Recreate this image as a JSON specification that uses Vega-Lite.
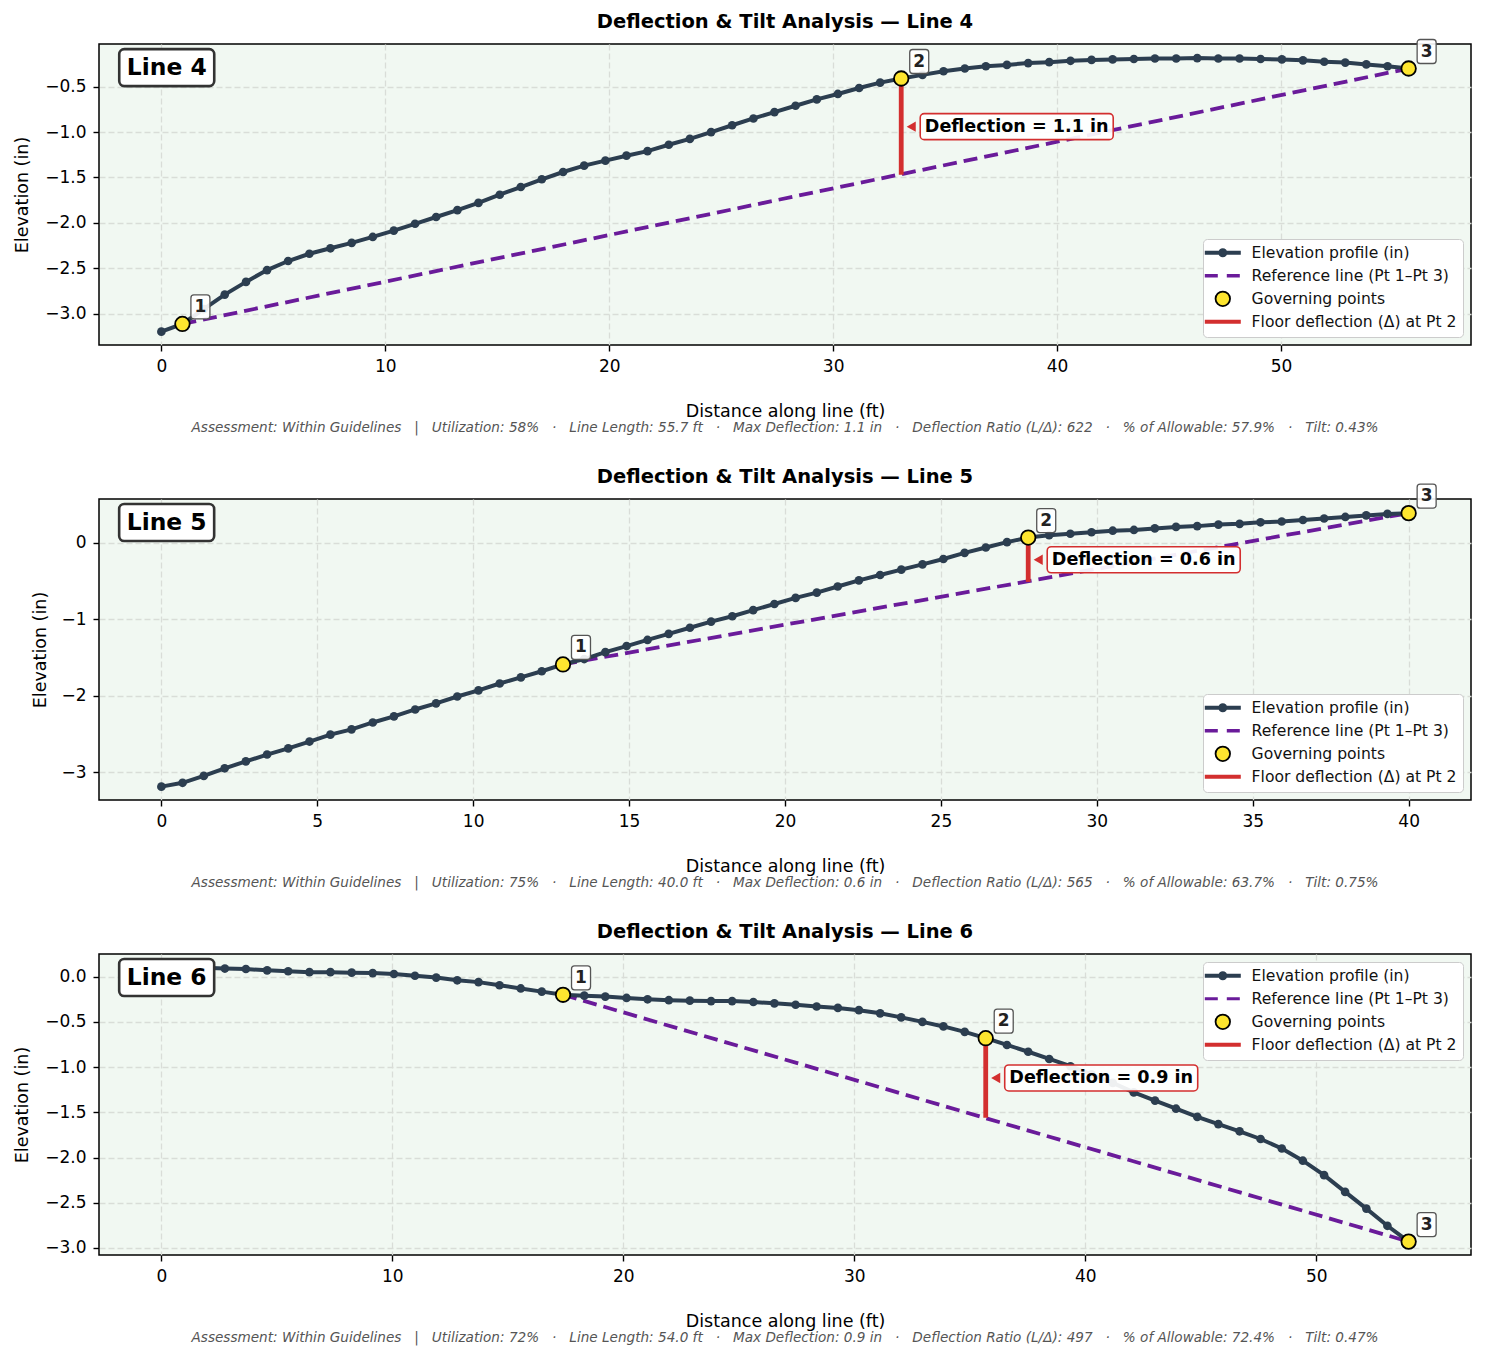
{"$schema":"https://vega.github.io/schema/vega-lite/v6.json","background":"white","padding":{"left":12,"top":11,"right":0,"bottom":0},"bounds":"flush","spacing":154,"config":{"font":"DejaVu Sans","view":{"stroke":"#000","strokeWidth":1.5,"fill":"#f1f8f2"},"axis":{"labelFont":"DejaVu Sans","titleFont":"DejaVu Sans","labelFontSize":17,"titleFontSize":17.5,"titleFontWeight":"normal","labelColor":"#000","titleColor":"#000","tickColor":"#000","tickSize":6,"tickWidth":1.4,"domain":false,"grid":true,"gridColor":"#d9ddd8","gridDash":[6,3],"gridWidth":1.3,"labelPadding":7},"axisX":{"titlePadding":28},"axisY":{"titlePadding":13},"title":{"font":"DejaVu Sans","fontSize":19.5,"fontWeight":"bold","color":"#000","anchor":"middle"}},"datasets":{"profile4":[{"x":0,"y":-3.198},{"x":0.94,"y":-3.113},{"x":1.89,"y":-2.95},{"x":2.83,"y":-2.79},{"x":3.78,"y":-2.65},{"x":4.72,"y":-2.52},{"x":5.66,"y":-2.42},{"x":6.61,"y":-2.34},{"x":7.55,"y":-2.28},{"x":8.5,"y":-2.22},{"x":9.44,"y":-2.155},{"x":10.38,"y":-2.085},{"x":11.33,"y":-2.01},{"x":12.27,"y":-1.935},{"x":13.22,"y":-1.86},{"x":14.16,"y":-1.78},{"x":15.11,"y":-1.69},{"x":16.05,"y":-1.605},{"x":16.99,"y":-1.52},{"x":17.94,"y":-1.44},{"x":18.88,"y":-1.37},{"x":19.83,"y":-1.315},{"x":20.77,"y":-1.26},{"x":21.71,"y":-1.21},{"x":22.66,"y":-1.14},{"x":23.6,"y":-1.075},{"x":24.55,"y":-1},{"x":25.49,"y":-0.925},{"x":26.44,"y":-0.85},{"x":27.38,"y":-0.78},{"x":28.32,"y":-0.71},{"x":29.27,"y":-0.64},{"x":30.21,"y":-0.58},{"x":31.16,"y":-0.515},{"x":32.1,"y":-0.455},{"x":33.04,"y":-0.41},{"x":33.99,"y":-0.37},{"x":34.93,"y":-0.33},{"x":35.88,"y":-0.3},{"x":36.82,"y":-0.275},{"x":37.76,"y":-0.26},{"x":38.71,"y":-0.24},{"x":39.65,"y":-0.23},{"x":40.6,"y":-0.215},{"x":41.54,"y":-0.205},{"x":42.48,"y":-0.2},{"x":43.43,"y":-0.195},{"x":44.37,"y":-0.19},{"x":45.32,"y":-0.19},{"x":46.26,"y":-0.185},{"x":47.2,"y":-0.19},{"x":48.15,"y":-0.19},{"x":49.09,"y":-0.195},{"x":50.04,"y":-0.2},{"x":50.98,"y":-0.21},{"x":51.93,"y":-0.225},{"x":52.87,"y":-0.235},{"x":53.81,"y":-0.255},{"x":54.76,"y":-0.275},{"x":55.7,"y":-0.3}],"profile5":[{"x":0,"y":-3.19},{"x":0.68,"y":-3.14},{"x":1.36,"y":-3.05},{"x":2.03,"y":-2.95},{"x":2.71,"y":-2.86},{"x":3.39,"y":-2.77},{"x":4.07,"y":-2.69},{"x":4.75,"y":-2.6},{"x":5.42,"y":-2.51},{"x":6.1,"y":-2.44},{"x":6.78,"y":-2.35},{"x":7.46,"y":-2.27},{"x":8.14,"y":-2.18},{"x":8.81,"y":-2.1},{"x":9.49,"y":-2.01},{"x":10.17,"y":-1.93},{"x":10.85,"y":-1.84},{"x":11.53,"y":-1.76},{"x":12.2,"y":-1.68},{"x":12.88,"y":-1.59},{"x":13.56,"y":-1.52},{"x":14.24,"y":-1.43},{"x":14.92,"y":-1.35},{"x":15.59,"y":-1.27},{"x":16.27,"y":-1.19},{"x":16.95,"y":-1.11},{"x":17.63,"y":-1.03},{"x":18.31,"y":-0.96},{"x":18.98,"y":-0.88},{"x":19.66,"y":-0.8},{"x":20.34,"y":-0.72},{"x":21.02,"y":-0.65},{"x":21.69,"y":-0.57},{"x":22.37,"y":-0.49},{"x":23.05,"y":-0.42},{"x":23.73,"y":-0.35},{"x":24.41,"y":-0.28},{"x":25.08,"y":-0.21},{"x":25.76,"y":-0.13},{"x":26.44,"y":-0.06},{"x":27.12,"y":0.01},{"x":27.8,"y":0.07},{"x":28.47,"y":0.1},{"x":29.15,"y":0.12},{"x":29.83,"y":0.14},{"x":30.51,"y":0.16},{"x":31.19,"y":0.17},{"x":31.86,"y":0.19},{"x":32.54,"y":0.21},{"x":33.22,"y":0.22},{"x":33.9,"y":0.24},{"x":34.58,"y":0.25},{"x":35.25,"y":0.27},{"x":35.93,"y":0.28},{"x":36.61,"y":0.3},{"x":37.29,"y":0.32},{"x":37.97,"y":0.34},{"x":38.64,"y":0.36},{"x":39.32,"y":0.38},{"x":40,"y":0.39}],"profile6":[{"x":0,"y":0.1},{"x":0.92,"y":0.1},{"x":1.83,"y":0.1},{"x":2.75,"y":0.09},{"x":3.66,"y":0.085},{"x":4.58,"y":0.07},{"x":5.49,"y":0.06},{"x":6.41,"y":0.05},{"x":7.32,"y":0.05},{"x":8.24,"y":0.045},{"x":9.15,"y":0.04},{"x":10.07,"y":0.03},{"x":10.98,"y":0.01},{"x":11.9,"y":-0.01},{"x":12.81,"y":-0.04},{"x":13.73,"y":-0.06},{"x":14.64,"y":-0.095},{"x":15.56,"y":-0.13},{"x":16.47,"y":-0.165},{"x":17.39,"y":-0.2},{"x":18.31,"y":-0.21},{"x":19.22,"y":-0.22},{"x":20.14,"y":-0.235},{"x":21.05,"y":-0.25},{"x":21.97,"y":-0.26},{"x":22.88,"y":-0.265},{"x":23.8,"y":-0.27},{"x":24.71,"y":-0.27},{"x":25.63,"y":-0.28},{"x":26.54,"y":-0.295},{"x":27.46,"y":-0.31},{"x":28.37,"y":-0.33},{"x":29.29,"y":-0.345},{"x":30.2,"y":-0.37},{"x":31.12,"y":-0.405},{"x":32.03,"y":-0.45},{"x":32.95,"y":-0.5},{"x":33.86,"y":-0.55},{"x":34.78,"y":-0.61},{"x":35.69,"y":-0.68},{"x":36.61,"y":-0.755},{"x":37.53,"y":-0.83},{"x":38.44,"y":-0.91},{"x":39.36,"y":-0.99},{"x":40.27,"y":-1.08},{"x":41.19,"y":-1.175},{"x":42.1,"y":-1.28},{"x":43.02,"y":-1.37},{"x":43.93,"y":-1.46},{"x":44.85,"y":-1.55},{"x":45.76,"y":-1.63},{"x":46.68,"y":-1.71},{"x":47.59,"y":-1.795},{"x":48.51,"y":-1.9},{"x":49.42,"y":-2.035},{"x":50.34,"y":-2.195},{"x":51.25,"y":-2.38},{"x":52.17,"y":-2.565},{"x":53.08,"y":-2.755},{"x":54,"y":-2.93}],"gov4":[{"x":0.94,"y":-3.113,"label":"1"},{"x":33.04,"y":-0.41,"label":"2"},{"x":55.7,"y":-0.3,"label":"3"}],"gov5":[{"x":12.88,"y":-1.59,"label":"1"},{"x":27.8,"y":0.07,"label":"2"},{"x":40,"y":0.39,"label":"3"}],"gov6":[{"x":17.39,"y":-0.2,"label":"1"},{"x":35.69,"y":-0.68,"label":"2"},{"x":54,"y":-2.93,"label":"3"}],"ref4":[{"x":0.94,"y":-3.113},{"x":55.7,"y":-0.3}],"ref5":[{"x":12.88,"y":-1.59},{"x":40,"y":0.39}],"ref6":[{"x":17.39,"y":-0.2},{"x":54,"y":-2.93}],"defl4":[{"x":33.04,"y":-0.41,"y2":-1.47,"mid":-0.94,"label":"Deflection = 1.1 in"}],"defl5":[{"x":27.8,"y":0.07,"y2":-0.51,"mid":-0.22,"label":"Deflection = 0.6 in"}],"defl6":[{"x":35.69,"y":-0.68,"y2":-1.56,"mid":-1.12,"label":"Deflection = 0.9 in"}],"note4":[{"x":0.24,"y":-0.29,"label":"Line 4"}],"note5":[{"x":0.17,"y":0.267,"label":"Line 5"}],"note6":[{"x":0.23,"y":-0.009,"label":"Line 6"}],"foot4":[{"x":27.85,"y":-4.259,"label":"Assessment: Within Guidelines\u00a0\u00a0\u00a0|\u00a0\u00a0\u00a0Utilization: 58%\u00a0\u00a0\u00a0·\u00a0\u00a0\u00a0Line Length: 55.7 ft\u00a0\u00a0\u00a0·\u00a0\u00a0\u00a0Max Deflection: 1.1 in\u00a0\u00a0\u00a0·\u00a0\u00a0\u00a0Deflection Ratio (L/Δ): 622\u00a0\u00a0\u00a0·\u00a0\u00a0\u00a0% of Allowable: 57.9%\u00a0\u00a0\u00a0·\u00a0\u00a0\u00a0Tilt: 0.43%"}],"foot5":[{"x":20,"y":-4.451,"label":"Assessment: Within Guidelines\u00a0\u00a0\u00a0|\u00a0\u00a0\u00a0Utilization: 75%\u00a0\u00a0\u00a0·\u00a0\u00a0\u00a0Line Length: 40.0 ft\u00a0\u00a0\u00a0·\u00a0\u00a0\u00a0Max Deflection: 0.6 in\u00a0\u00a0\u00a0·\u00a0\u00a0\u00a0Deflection Ratio (L/Δ): 565\u00a0\u00a0\u00a0·\u00a0\u00a0\u00a0% of Allowable: 63.7%\u00a0\u00a0\u00a0·\u00a0\u00a0\u00a0Tilt: 0.75%"}],"foot6":[{"x":27,"y":-3.997,"label":"Assessment: Within Guidelines\u00a0\u00a0\u00a0|\u00a0\u00a0\u00a0Utilization: 72%\u00a0\u00a0\u00a0·\u00a0\u00a0\u00a0Line Length: 54.0 ft\u00a0\u00a0\u00a0·\u00a0\u00a0\u00a0Max Deflection: 0.9 in\u00a0\u00a0\u00a0·\u00a0\u00a0\u00a0Deflection Ratio (L/Δ): 497\u00a0\u00a0\u00a0·\u00a0\u00a0\u00a0% of Allowable: 72.4%\u00a0\u00a0\u00a0·\u00a0\u00a0\u00a0Tilt: 0.47%"}]},"vconcat":[{"title":{"text":"Deflection & Tilt Analysis — Line 4","offset":6},"width":1372,"height":301,"encoding":{"x":{"field":"x","type":"quantitative","scale":{"domain":[-2.785,58.485],"nice":false,"zero":false},"axis":{"values":[0,10,20,30,40,50],"title":"Distance along line (ft)","format":"d"}},"y":{"field":"y","type":"quantitative","scale":{"domain":[-3.345,-0.03],"nice":false,"zero":false},"axis":{"values":[-3,-2.5,-2,-1.5,-1,-0.5],"title":"Elevation (in)","labelExpr":"replace(format(datum.value,'.1f'),'-','−')"}}},"layer":[{"data":{"name":"ref4"},"mark":{"type":"line","strokeWidth":3.8,"strokeDash":[14,7]},"encoding":{"stroke":{"datum":"Reference line (Pt 1–Pt 3)","scale":{"domain":["Elevation profile (in)","Reference line (Pt 1–Pt 3)","Governing points","Floor deflection (Δ) at Pt 2"],"range":["#2c3e50","#6a1b9a","#000000","#d32f2f"]},"legend":{"title":null,"orient":"bottom-right","offset":8,"labelFont":"DejaVu Sans","labelFontSize":15.6,"labelLimit":300,"labelColor":"#111","fillColor":"#ffffff","strokeColor":"#cccccc","cornerRadius":4,"padding":6,"symbolSize":1296,"gridAlign":"all","rowPadding":0,"symbolOffset":6,"labelOffset":21,"encode":{"symbols":{"update":{"shape":{"signal":"datum.value==='Elevation profile (in)'?'M-1,0L1,0M-0.14,0A0.14,0.14,0,1,1,0.14,0A0.14,0.14,0,1,1,-0.14,0Z':datum.value==='Governing points'?'circle':'stroke'"},"size":{"signal":"datum.value==='Governing points'?210:1296"},"strokeWidth":{"signal":"datum.value==='Governing points'?1.8:datum.value==='Reference line (Pt 1–Pt 3)'?3.6:4"},"strokeDash":{"signal":"datum.value==='Reference line (Pt 1–Pt 3)'?[13,9]:[]"},"fill":{"signal":"datum.value==='Governing points'?'#fde52f':datum.value==='Elevation profile (in)'?'#2c3e50':'transparent'"},"opacity":{"value":1}}}}}}}},{"data":{"name":"profile4"},"mark":{"type":"line","strokeWidth":4},"encoding":{"stroke":{"datum":"Elevation profile (in)"}}},{"data":{"name":"profile4"},"mark":{"type":"point","filled":true,"size":75,"opacity":1,"color":"#2c3e50"}},{"data":{"name":"defl4"},"mark":{"type":"rule","strokeWidth":4.8},"encoding":{"y2":{"field":"y2"},"stroke":{"datum":"Floor deflection (Δ) at Pt 2"}}},{"data":{"name":"gov4"},"mark":{"type":"point","fill":"#fde52f","size":210,"strokeWidth":1.8,"opacity":1},"encoding":{"stroke":{"datum":"Governing points"}}},{"data":{"name":"defl4"},"mark":{"type":"point","shape":"triangle-left","filled":true,"size":110,"opacity":1,"color":"#d32f2f","xOffset":10},"encoding":{"y":{"field":"mid"}}},{"data":{"name":"defl4"},"mark":{"type":"rect","width":193,"height":26,"cornerRadius":4,"fill":"#ffffff","fillOpacity":0.92,"stroke":"#d32f2f","strokeWidth":1.6,"xOffset":115.5},"encoding":{"y":{"field":"mid"}}},{"data":{"name":"defl4"},"mark":{"type":"text","font":"DejaVu Sans","fontSize":17.6,"fontWeight":"bold","color":"#000","dx":115.5,"align":"center","baseline":"middle"},"encoding":{"y":{"field":"mid"},"text":{"field":"label"}}},{"data":{"name":"gov4"},"mark":{"type":"rect","width":19,"height":24,"cornerRadius":3,"fill":"#ffffff","fillOpacity":0.9,"stroke":"#555555","strokeWidth":1.3,"xOffset":18,"yOffset":-17}},{"data":{"name":"gov4"},"mark":{"type":"text","font":"DejaVu Sans","fontSize":17,"fontWeight":"bold","color":"#222","dx":18,"dy":-17,"align":"center","baseline":"middle"},"encoding":{"text":{"field":"label"}}},{"data":{"name":"note4"},"mark":{"type":"rect","width":95,"height":37,"cornerRadius":5,"fill":"#ffffff","stroke":"#333333","strokeWidth":2.6}},{"data":{"name":"note4"},"mark":{"type":"text","font":"DejaVu Sans","fontSize":23.4,"fontWeight":"bold","color":"#000","align":"center","baseline":"middle"},"encoding":{"text":{"field":"label"}}},{"data":{"name":"foot4"},"mark":{"type":"text","font":"DejaVu Sans","fontSize":13.6,"fontStyle":"italic","color":"#555555","align":"center","baseline":"middle"},"encoding":{"text":{"field":"label"}}}]},{"title":{"text":"Deflection & Tilt Analysis — Line 5","offset":-4},"width":1372,"height":301,"encoding":{"x":{"field":"x","type":"quantitative","scale":{"domain":[-2,42],"nice":false,"zero":false},"axis":{"values":[0,5,10,15,20,25,30,35,40],"title":"Distance along line (ft)","format":"d"}},"y":{"field":"y","type":"quantitative","scale":{"domain":[-3.365,0.575],"nice":false,"zero":false},"axis":{"values":[-3,-2,-1,0],"title":"Elevation (in)","titlePadding":11,"labelExpr":"replace(format(datum.value,'d'),'-','−')"}}},"layer":[{"data":{"name":"ref5"},"mark":{"type":"line","strokeWidth":3.8,"strokeDash":[14,7]},"encoding":{"stroke":{"datum":"Reference line (Pt 1–Pt 3)","scale":{"domain":["Elevation profile (in)","Reference line (Pt 1–Pt 3)","Governing points","Floor deflection (Δ) at Pt 2"],"range":["#2c3e50","#6a1b9a","#000000","#d32f2f"]},"legend":{"title":null,"orient":"bottom-right","offset":8,"labelFont":"DejaVu Sans","labelFontSize":15.6,"labelLimit":300,"labelColor":"#111","fillColor":"#ffffff","strokeColor":"#cccccc","cornerRadius":4,"padding":6,"symbolSize":1296,"gridAlign":"all","rowPadding":0,"symbolOffset":6,"labelOffset":21,"encode":{"symbols":{"update":{"shape":{"signal":"datum.value==='Elevation profile (in)'?'M-1,0L1,0M-0.14,0A0.14,0.14,0,1,1,0.14,0A0.14,0.14,0,1,1,-0.14,0Z':datum.value==='Governing points'?'circle':'stroke'"},"size":{"signal":"datum.value==='Governing points'?210:1296"},"strokeWidth":{"signal":"datum.value==='Governing points'?1.8:datum.value==='Reference line (Pt 1–Pt 3)'?3.6:4"},"strokeDash":{"signal":"datum.value==='Reference line (Pt 1–Pt 3)'?[13,9]:[]"},"fill":{"signal":"datum.value==='Governing points'?'#fde52f':datum.value==='Elevation profile (in)'?'#2c3e50':'transparent'"},"opacity":{"value":1}}}}}}}},{"data":{"name":"profile5"},"mark":{"type":"line","strokeWidth":4},"encoding":{"stroke":{"datum":"Elevation profile (in)"}}},{"data":{"name":"profile5"},"mark":{"type":"point","filled":true,"size":75,"opacity":1,"color":"#2c3e50"}},{"data":{"name":"defl5"},"mark":{"type":"rule","strokeWidth":4.8},"encoding":{"y2":{"field":"y2"},"stroke":{"datum":"Floor deflection (Δ) at Pt 2"}}},{"data":{"name":"gov5"},"mark":{"type":"point","fill":"#fde52f","size":210,"strokeWidth":1.8,"opacity":1},"encoding":{"stroke":{"datum":"Governing points"}}},{"data":{"name":"defl5"},"mark":{"type":"point","shape":"triangle-left","filled":true,"size":110,"opacity":1,"color":"#d32f2f","xOffset":10},"encoding":{"y":{"field":"mid"}}},{"data":{"name":"defl5"},"mark":{"type":"rect","width":193,"height":26,"cornerRadius":4,"fill":"#ffffff","fillOpacity":0.92,"stroke":"#d32f2f","strokeWidth":1.6,"xOffset":115.5},"encoding":{"y":{"field":"mid"}}},{"data":{"name":"defl5"},"mark":{"type":"text","font":"DejaVu Sans","fontSize":17.6,"fontWeight":"bold","color":"#000","dx":115.5,"align":"center","baseline":"middle"},"encoding":{"y":{"field":"mid"},"text":{"field":"label"}}},{"data":{"name":"gov5"},"mark":{"type":"rect","width":19,"height":24,"cornerRadius":3,"fill":"#ffffff","fillOpacity":0.9,"stroke":"#555555","strokeWidth":1.3,"xOffset":18,"yOffset":-17}},{"data":{"name":"gov5"},"mark":{"type":"text","font":"DejaVu Sans","fontSize":17,"fontWeight":"bold","color":"#222","dx":18,"dy":-17,"align":"center","baseline":"middle"},"encoding":{"text":{"field":"label"}}},{"data":{"name":"note5"},"mark":{"type":"rect","width":95,"height":37,"cornerRadius":5,"fill":"#ffffff","stroke":"#333333","strokeWidth":2.6}},{"data":{"name":"note5"},"mark":{"type":"text","font":"DejaVu Sans","fontSize":23.4,"fontWeight":"bold","color":"#000","align":"center","baseline":"middle"},"encoding":{"text":{"field":"label"}}},{"data":{"name":"foot5"},"mark":{"type":"text","font":"DejaVu Sans","fontSize":13.6,"fontStyle":"italic","color":"#555555","align":"center","baseline":"middle"},"encoding":{"text":{"field":"label"}}}]},{"title":{"text":"Deflection & Tilt Analysis — Line 6","offset":12},"width":1372,"height":301,"encoding":{"x":{"field":"x","type":"quantitative","scale":{"domain":[-2.7,56.7],"nice":false,"zero":false},"axis":{"values":[0,10,20,30,40,50],"title":"Distance along line (ft)","format":"d"}},"y":{"field":"y","type":"quantitative","scale":{"domain":[-3.078,0.251],"nice":false,"zero":false},"axis":{"values":[-3,-2.5,-2,-1.5,-1,-0.5,0],"title":"Elevation (in)","labelExpr":"replace(format(datum.value,'.1f'),'-','−')"}}},"layer":[{"data":{"name":"ref6"},"mark":{"type":"line","strokeWidth":3.8,"strokeDash":[14,7]},"encoding":{"stroke":{"datum":"Reference line (Pt 1–Pt 3)","scale":{"domain":["Elevation profile (in)","Reference line (Pt 1–Pt 3)","Governing points","Floor deflection (Δ) at Pt 2"],"range":["#2c3e50","#6a1b9a","#000000","#d32f2f"]},"legend":{"title":null,"orient":"top-right","offset":8,"labelFont":"DejaVu Sans","labelFontSize":15.6,"labelLimit":300,"labelColor":"#111","fillColor":"#ffffff","strokeColor":"#cccccc","cornerRadius":4,"padding":6,"symbolSize":1296,"gridAlign":"all","rowPadding":0,"symbolOffset":6,"labelOffset":21,"encode":{"symbols":{"update":{"shape":{"signal":"datum.value==='Elevation profile (in)'?'M-1,0L1,0M-0.14,0A0.14,0.14,0,1,1,0.14,0A0.14,0.14,0,1,1,-0.14,0Z':datum.value==='Governing points'?'circle':'stroke'"},"size":{"signal":"datum.value==='Governing points'?210:1296"},"strokeWidth":{"signal":"datum.value==='Governing points'?1.8:datum.value==='Reference line (Pt 1–Pt 3)'?3:4"},"strokeDash":{"signal":"datum.value==='Reference line (Pt 1–Pt 3)'?[13,9]:[]"},"fill":{"signal":"datum.value==='Governing points'?'#fde52f':datum.value==='Elevation profile (in)'?'#2c3e50':'transparent'"},"opacity":{"value":1}}}}}}}},{"data":{"name":"profile6"},"mark":{"type":"line","strokeWidth":4},"encoding":{"stroke":{"datum":"Elevation profile (in)"}}},{"data":{"name":"profile6"},"mark":{"type":"point","filled":true,"size":75,"opacity":1,"color":"#2c3e50"}},{"data":{"name":"defl6"},"mark":{"type":"rule","strokeWidth":4.8},"encoding":{"y2":{"field":"y2"},"stroke":{"datum":"Floor deflection (Δ) at Pt 2"}}},{"data":{"name":"gov6"},"mark":{"type":"point","fill":"#fde52f","size":210,"strokeWidth":1.8,"opacity":1},"encoding":{"stroke":{"datum":"Governing points"}}},{"data":{"name":"defl6"},"mark":{"type":"point","shape":"triangle-left","filled":true,"size":110,"opacity":1,"color":"#d32f2f","xOffset":10},"encoding":{"y":{"field":"mid"}}},{"data":{"name":"defl6"},"mark":{"type":"rect","width":193,"height":26,"cornerRadius":4,"fill":"#ffffff","fillOpacity":0.92,"stroke":"#d32f2f","strokeWidth":1.6,"xOffset":115.5},"encoding":{"y":{"field":"mid"}}},{"data":{"name":"defl6"},"mark":{"type":"text","font":"DejaVu Sans","fontSize":17.6,"fontWeight":"bold","color":"#000","dx":115.5,"align":"center","baseline":"middle"},"encoding":{"y":{"field":"mid"},"text":{"field":"label"}}},{"data":{"name":"gov6"},"mark":{"type":"rect","width":19,"height":24,"cornerRadius":3,"fill":"#ffffff","fillOpacity":0.9,"stroke":"#555555","strokeWidth":1.3,"xOffset":18,"yOffset":-17}},{"data":{"name":"gov6"},"mark":{"type":"text","font":"DejaVu Sans","fontSize":17,"fontWeight":"bold","color":"#222","dx":18,"dy":-17,"align":"center","baseline":"middle"},"encoding":{"text":{"field":"label"}}},{"data":{"name":"note6"},"mark":{"type":"rect","width":95,"height":37,"cornerRadius":5,"fill":"#ffffff","stroke":"#333333","strokeWidth":2.6}},{"data":{"name":"note6"},"mark":{"type":"text","font":"DejaVu Sans","fontSize":23.4,"fontWeight":"bold","color":"#000","align":"center","baseline":"middle"},"encoding":{"text":{"field":"label"}}},{"data":{"name":"foot6"},"mark":{"type":"text","font":"DejaVu Sans","fontSize":13.6,"fontStyle":"italic","color":"#555555","align":"center","baseline":"middle"},"encoding":{"text":{"field":"label"}}}]}]}
